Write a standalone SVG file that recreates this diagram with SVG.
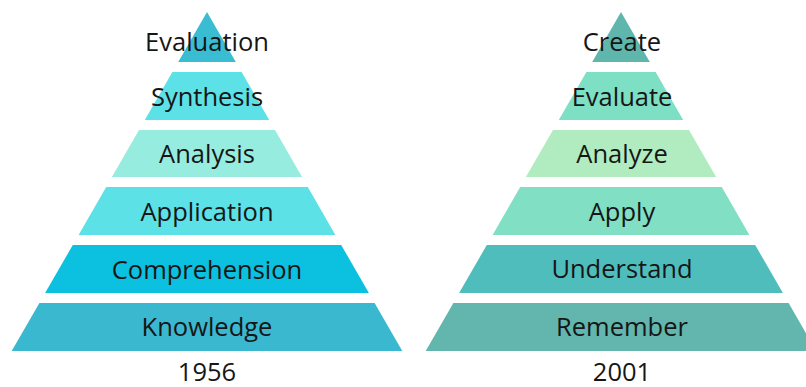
<svg xmlns="http://www.w3.org/2000/svg" width="806" height="387" viewBox="0 0 806 387">
<style>
  text { font-family: "Open Sans", "Noto Sans", "DejaVu Sans", sans-serif; font-size: 25.5px; fill: #161616; text-anchor: middle; }
</style>
<rect width="806" height="387" fill="#ffffff"/>
<g id="pyramid-1956">
  <g id="evaluation"><polygon points="207,12 235.8,62 178.2,62" fill="#3abdd2"/><text x="207" y="51">Evaluation</text></g>
  <g id="synthesis"><polygon points="172.4,72 241.6,72 269.2,120 144.8,120" fill="#5ce1e6"/><text x="207" y="106">Synthesis</text></g>
  <g id="analysis"><polygon points="139,130 275,130 302.1,177 111.9,177" fill="#96ecdf"/><text x="207" y="163">Analysis</text></g>
  <g id="application"><polygon points="106.2,187 307.8,187 335.4,235 78.6,235" fill="#5ce1e6"/><text x="207" y="221">Application</text></g>
  <g id="comprehension"><polygon points="72.8,245 341.2,245 368.9,293 45.1,293" fill="#0cc0df"/><text x="207" y="279">Comprehension</text></g>
  <g id="knowledge"><polygon points="39.4,303 374.6,303 402.3,351 11.7,351" fill="#3ab8cf"/><text x="207" y="336">Knowledge</text></g>
  <text x="207" y="381">1956</text>
</g>
<g id="pyramid-2001">
  <g id="create"><polygon points="621,12 649.8,62 592.2,62" fill="#5fb6ad"/><text x="622" y="51">Create</text></g>
  <g id="evaluate"><polygon points="586.4,72 655.6,72 683.2,120 558.8,120" fill="#7ddfc3"/><text x="622" y="106">Evaluate</text></g>
  <g id="analyze"><polygon points="553,130 689,130 716.1,177 525.9,177" fill="#b0ecbf"/><text x="622" y="163">Analyze</text></g>
  <g id="apply"><polygon points="520.2,187 721.8,187 749.4,235 492.6,235" fill="#81dfc4"/><text x="622" y="221">Apply</text></g>
  <g id="understand"><polygon points="486.8,245 755.2,245 782.9,293 459.1,293" fill="#50bdbd"/><text x="622" y="278">Understand</text></g>
  <g id="remember"><polygon points="453.4,303 788.6,303 816.3,351 425.7,351" fill="#62b6ad"/><text x="622" y="336">Remember</text></g>
  <text x="622" y="381">2001</text>
</g>
<g id="connectors"/>
</svg>
